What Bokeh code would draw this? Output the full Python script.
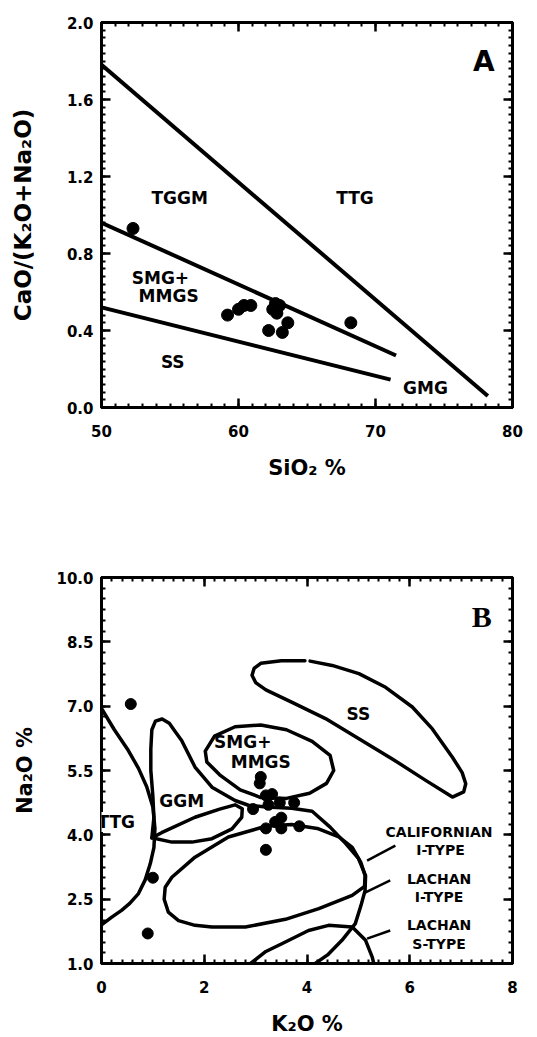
from bokeh.plotting import figure
from bokeh.layouts import column
from bokeh.models import (Range1d, FixedTicker, PrintfTickFormatter, LinearAxis, Label,
                          CustomLabelingPolicy)
from bokeh.embed import file_html
from bokeh.resources import INLINE

FONT = "DejaVu Sans"

# ---------------- Panel A data: SiO2 % vs CaO/(K2O+Na2O) ----------------
a_sio2 = [52.3, 59.2, 60.0, 60.4, 60.9, 62.5, 62.7, 63.0, 62.8, 62.2, 63.2, 63.6, 68.2]
a_ratio = [0.93, 0.48, 0.51, 0.53, 0.53, 0.51, 0.54, 0.53, 0.49, 0.40, 0.39, 0.44, 0.44]

a_ttg_x = [50, 78.2]
a_ttg_y = [1.78, 0.06]
a_upper_x = [50, 71.5]
a_upper_y = [0.96, 0.27]
a_lower_x = [50, 71.1]
a_lower_y = [0.52, 0.145]

a_xticks = [50, 60, 70, 80]
a_yticks = [0.0, 0.4, 0.8, 1.2, 1.6, 2.0]

a_labels = ["TGGM", "TTG", "SMG+", "MMGS", "SS", "GMG"]
a_label_x = [55.7, 68.5, 54.3, 54.9, 55.2, 73.65]
a_label_y = [1.09, 1.09, 0.675, 0.58, 0.235, 0.10]

# ---------------- Panel B data: K2O % vs Na2O % ----------------
b_k2o = [0.57, 1.0, 0.9, 3.1, 3.08, 2.95, 3.2, 3.32, 3.25, 3.47, 3.75, 3.5, 3.38, 3.2, 3.5, 3.85, 3.2]
b_na2o = [7.05, 3.0, 1.7, 5.35, 5.2, 4.6, 4.92, 4.95, 4.7, 4.75, 4.75, 4.4, 4.3, 4.15, 4.15, 4.2, 3.65]

ttg_x = [0.0, 0.25, 0.52, 0.72, 0.88, 1.0, 1.04, 1.02, 0.95, 0.85, 0.72, 0.55, 0.39, 0.2, 0.0]
ttg_y = [6.95, 6.45, 5.97, 5.55, 5.12, 4.65, 4.15, 3.7, 3.33, 2.95, 2.63, 2.4, 2.24, 2.08, 1.9]

ggm_x = [0.98, 1.02, 1.0, 0.96, 0.96, 0.98, 1.05, 1.18, 1.32, 1.44, 1.56, 1.82, 2.15, 2.6, 2.86, 3.2,
         3.7, 4.1, 4.45, 4.75, 5.0, 5.14, 5.13, 5.05, 4.94, 4.68, 4.4, 4.16]
ggm_y = [3.93, 4.4, 4.9, 5.5, 6.0, 6.45, 6.65, 6.7, 6.6, 6.4, 6.2, 5.58, 5.11, 4.8, 4.69, 4.65,
         4.62, 4.55, 4.18, 3.8, 3.45, 3.05, 2.7, 2.35, 1.93, 1.54, 1.2, 1.0]

ggm_loop_x = [0.98, 1.37, 1.76, 2.15, 2.54, 2.73, 2.74, 2.6, 2.3, 1.82, 1.17, 0.98]
ggm_loop_y = [3.93, 3.83, 3.83, 3.91, 4.14, 4.41, 4.61, 4.7, 4.6, 4.41, 4.05, 3.93]

smg_x = [2.02, 2.2, 2.6, 3.1, 3.6, 4.1, 4.45, 4.52, 4.38, 4.05, 3.6, 3.1, 2.7, 2.3, 2.05, 2.02]
smg_y = [5.95, 6.3, 6.52, 6.56, 6.45, 6.18, 5.85, 5.5, 5.2, 4.97, 4.85, 4.87, 5.05, 5.4, 5.7, 5.95]

ss_x = [4.06, 4.49, 5.01, 5.53, 6.05, 6.44, 6.83, 7.02, 7.09, 7.05, 6.83, 6.31, 5.66, 5.01, 4.36,
        3.71, 3.2, 3.0, 2.93, 2.97, 3.1, 3.5, 3.96]
ss_y = [8.05, 7.95, 7.76, 7.44, 6.98, 6.47, 5.81, 5.45, 5.19, 5.0, 4.88, 5.27, 5.77, 6.24, 6.71,
        7.09, 7.38, 7.55, 7.72, 7.88, 8.0, 8.06, 8.06]

lach_i_x = [1.22, 1.3, 1.5, 1.82, 2.15, 2.8, 3.58, 4.23, 4.88, 5.12, 5.13, 5.05, 4.88, 4.62, 4.2,
            3.7, 3.2, 2.47, 1.82, 1.37, 1.24, 1.22]
lach_i_y = [2.5, 2.2, 2.0, 1.89, 1.85, 1.85, 2.03, 2.28, 2.59, 2.8, 3.05, 3.35, 3.71, 3.95, 4.15,
            4.24, 4.2, 3.95, 3.48, 3.01, 2.78, 2.5]

lach_s_x = [2.9, 3.2, 3.51, 4.03, 4.42, 4.88, 5.14, 5.27, 5.3]
lach_s_y = [1.0, 1.28, 1.46, 1.77, 1.89, 1.85, 1.54, 1.15, 1.0]

ptr_x = [[5.17, 5.72], [5.14, 5.62], [5.17, 5.62]]
ptr_y = [[3.40, 3.75], [2.66, 2.94], [1.58, 1.77]]

b_xticks = [0, 2, 4, 6, 8]
b_yticks = [1.0, 2.5, 4.0, 5.5, 7.0, 8.5, 10.0]

b_labels = ["SS", "SMG+", "MMGS", "GGM", "CALIFORNIAN", "I-TYPE", "LACHAN", "I-TYPE", "LACHAN", "S-TYPE"]
b_label_x = [5.0, 2.75, 3.1, 1.56, 6.57, 6.6, 6.57, 6.57, 6.57, 6.57]
b_label_y = [6.82, 6.16, 5.69, 4.80, 4.06, 3.64, 2.98, 2.55, 1.89, 1.46]


def style(p, xticks, xminor, yticks, yminor, xfmt, yfmt, xtitle, ytitle, ytitle_standoff, ytitle_size):
    p.grid.visible = False
    p.outline_line_color = "black"
    p.outline_line_width = 3
    below = p.below[0]
    left = p.left[0]
    below.ticker = FixedTicker(ticks=xticks, minor_ticks=xminor)
    left.ticker = FixedTicker(ticks=yticks, minor_ticks=yminor)
    below.formatter = PrintfTickFormatter(format=xfmt)
    left.formatter = PrintfTickFormatter(format=yfmt)
    below.axis_label = xtitle
    left.axis_label = ytitle
    above = LinearAxis(ticker=FixedTicker(ticks=xticks, minor_ticks=xminor),
                       major_label_policy=CustomLabelingPolicy(code="return []"))
    right = LinearAxis(ticker=FixedTicker(ticks=yticks, minor_ticks=yminor),
                       major_label_policy=CustomLabelingPolicy(code="return []"))
    p.add_layout(above, "above")
    p.add_layout(right, "right")
    for ax in [below, left, above, right]:
        ax.axis_line_width = 3
        ax.axis_line_color = "black"
        ax.major_tick_in = 9
        ax.major_tick_out = 0
        ax.minor_tick_in = 4
        ax.minor_tick_out = 0
        ax.major_tick_line_width = 2.5
        ax.minor_tick_line_width = 2
        ax.major_label_text_font = FONT
        ax.major_label_text_font_style = "bold"
        ax.major_label_text_font_size = "15px"
        ax.major_label_text_color = "black"
        ax.axis_label_text_font = FONT
        ax.axis_label_text_font_style = "bold"
        ax.axis_label_text_font_size = "21px"
        ax.axis_label_text_color = "black"
    for ax in [above, right]:
        ax.major_label_standoff = 0
    left.axis_label_text_font_size = ytitle_size
    below.major_label_standoff = 17
    below.axis_label_standoff = 16
    left.major_label_standoff = 8
    left.axis_label_standoff = ytitle_standoff


# ---------------- Figure A ----------------
pa = figure(frame_width=411, frame_height=385, min_border_left=101, min_border_right=25,
            min_border_top=22, min_border_bottom=113, x_range=Range1d(50, 80), y_range=Range1d(0, 2),
            output_backend="svg", toolbar_location=None)
style(pa, a_xticks, [50 + i for i in range(31)], a_yticks, [round(0.04 * i, 2) for i in range(51)],
      "%d", "%.1f", "SiO\u2082 %", "CaO/(K\u2082O+Na\u2082O)", 28, "23px")

for xs, ys in [(a_ttg_x, a_ttg_y), (a_upper_x, a_upper_y), (a_lower_x, a_lower_y)]:
    pa.line(xs, ys, line_color="black", line_width=4)
pa.scatter(a_sio2, a_ratio, size=12, marker="circle", fill_color="black", line_color="black")

for t, x, y in zip(a_labels, a_label_x, a_label_y):
    pa.add_layout(Label(x=x, y=y, text=t, text_align="center", text_baseline="middle",
                        text_font=FONT, text_font_style="bold", text_font_size="17px", text_color="black"))
pa.add_layout(Label(x=77.9, y=1.80, text="A", text_align="center", text_baseline="middle",
                    text_font=FONT, text_font_style="bold", text_font_size="28px", text_color="black"))

# ---------------- Figure B ----------------
pb = figure(frame_width=411, frame_height=386, min_border_left=97, min_border_right=29,
            min_border_top=57, min_border_bottom=74, x_range=Range1d(0, 8), y_range=Range1d(1, 10),
            output_backend="svg", toolbar_location=None)
style(pb, b_xticks, [round(0.2 * i, 1) for i in range(41)], b_yticks, [1 + 0.25 * i for i in range(37)],
      "%d", "%.1f", "K\u2082O %", "Na\u2082O %", 16, "21px")

for xs, ys in [(ttg_x, ttg_y), (ggm_x, ggm_y), (ggm_loop_x, ggm_loop_y), (smg_x, smg_y),
               (ss_x, ss_y), (lach_i_x, lach_i_y), (lach_s_x, lach_s_y)]:
    pb.line(xs, ys, line_color="black", line_width=3.5, line_join="round", line_cap="round")
pb.multi_line(ptr_x, ptr_y, line_color="black", line_width=2.5)
pb.scatter(b_k2o, b_na2o, size=11, marker="circle", fill_color="black", line_color="black")

for t, x, y in zip(b_labels, b_label_x, b_label_y):
    size = "17px" if t in ("SS", "SMG+", "MMGS", "GGM") else "14px"
    pb.add_layout(Label(x=x, y=y, text=t, text_align="center", text_baseline="middle",
                        text_font=FONT, text_font_style="bold", text_font_size=size, text_color="black"))
pb.add_layout(Label(x=-0.08, y=4.3, text="TTG", text_align="left", text_baseline="middle",
                    text_font=FONT, text_font_style="bold", text_font_size="17px", text_color="black",
                    background_fill_color="white"))
pb.add_layout(Label(x=7.4, y=9.1, text="B", text_align="center", text_baseline="middle",
                    text_font="Liberation Serif", text_font_style="bold", text_font_size="30px",
                    text_color="black"))

layout = column(pa, pb, spacing=0)
open("out.html", "w").write(file_html(layout, INLINE))
